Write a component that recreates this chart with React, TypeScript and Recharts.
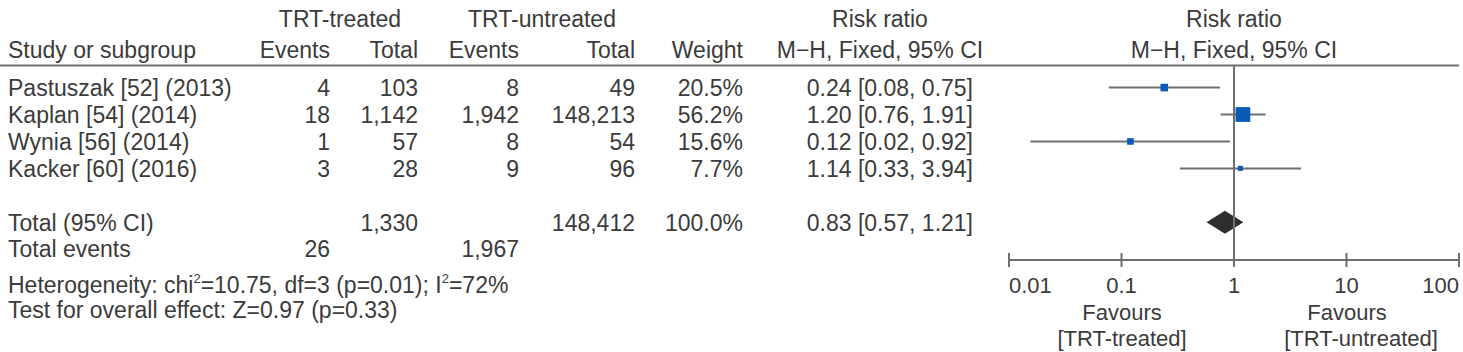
import {
  ComposedChart, Scatter, XAxis, YAxis, ErrorBar, ReferenceLine, ReferenceArea,
} from "recharts";

const ink = "#3b3b3b";
const rule = "#6f6f6f";
const blue = "#0a5bb5";
const dark = "#2e2e2e";
const font = "'Liberation Sans', Arial, Helvetica, sans-serif";

// study data
const studies = ["Pastuszak [52] (2013)", "Kaplan [54] (2014)", "Wynia [56] (2014)", "Kacker [60] (2016)"];
const eventsTreated = [4, 18, 1, 3];
const totalTreated = [103, 1142, 57, 28];
const eventsUntreated = [8, 1942, 8, 9];
const totalUntreated = [49, 148213, 54, 96];
const weights = [20.5, 56.2, 15.6, 7.7];
const riskRatio = [0.24, 1.2, 0.12, 1.14];
const ciLow = [0.077, 0.76, 0.0155, 0.33];
const ciHigh = [0.75, 1.91, 0.92, 3.94];
const ciLabels = ["0.24 [0.08, 0.75]", "1.20 [0.76, 1.91]", "0.12 [0.02, 0.92]", "1.14 [0.33, 3.94]"];

// pooled
const pooledTotals = [1330, 148412];
const pooledEvents = [26, 1967];
const pooledWeight = 100;
const pooledRR = [0.83, 0.57, 1.21];
const pooledLabel = "0.83 [0.57, 1.21]";

const xTicks = [0.01, 0.1, 1, 10, 100];
const studyRows = [1, 2, 3, 4];
const pooledRow = 6;

const forestRows = studies.map((name, i) => ({
  name,
  rr: riskRatio[i],
  y: studyRows[i],
  weight: weights[i],
  err: [riskRatio[i] - ciLow[i], ciHigh[i] - riskRatio[i]],
}));

const fmt = (n: number) => n.toLocaleString("en-US");

// table layout (pixel baselines / right edges)
const rowBase = [96, 123, 150, 177];
const colRight = { evT: 330, totT: 418, evU: 519, totU: 635, weight: 743, ci: 973 };

function WeightSquare(props: any) {
  const { cx, cy, payload } = props;
  const side = 0.2 * payload.weight + 3.5;
  return <rect x={cx - side / 2} y={cy - side / 2} width={side} height={side} fill={blue} />;
}

function Diamond(props: any) {
  const { x, y, width, height } = props;
  const pts = [
    [x, y + height / 2], [x + width / 2, y], [x + width, y + height / 2], [x + width / 2, y + height],
  ].map((p) => p.join(",")).join(" ");
  return <polygon points={pts} fill={dark} />;
}

function LogTick(props: any) {
  const { x, y, payload, index } = props;
  const anchor = index === 0 ? "start" : index === xTicks.length - 1 ? "end" : "middle";
  return (
    <g>
      <line x1={x} x2={x} y1={y - 7} y2={y + 7} stroke={rule} strokeWidth={2} />
      <text x={x} y={y + 33} textAnchor={anchor} fontSize={22} fill={ink} fontFamily={font}>
        {String(payload.value)}
      </text>
    </g>
  );
}

function Table() {
  const t = { fontSize: 23, fill: ink, fontFamily: font };
  const f = { fontSize: 22, fill: ink, fontFamily: font };
  const R = (x: number, y: number, s: string | number) => (
    <text x={x} y={y} textAnchor="end" {...t}>{s}</text>
  );
  return (
    <svg width={1463} height={352} style={{ position: "absolute", left: 0, top: 0, pointerEvents: "none" }}>
      {/* headers */}
      <text x={340} y={27} textAnchor="middle" {...t}>TRT-treated</text>
      <text x={542} y={27} textAnchor="middle" {...t}>TRT-untreated</text>
      <text x={880} y={27} textAnchor="middle" {...t}>Risk ratio</text>
      <text x={1234} y={27} textAnchor="middle" {...t}>Risk ratio</text>
      <text x={8} y={58} {...t}>Study or subgroup</text>
      {R(colRight.evT, 58, "Events")}
      {R(colRight.totT, 58, "Total")}
      {R(colRight.evU, 58, "Events")}
      {R(colRight.totU, 58, "Total")}
      {R(colRight.weight, 58, "Weight")}
      <text x={880} y={58} textAnchor="middle" {...t}>M−H, Fixed, 95% CI</text>
      <text x={1234} y={58} textAnchor="middle" {...t}>M−H, Fixed, 95% CI</text>
      <line x1={0} x2={1459} y1={65.5} y2={65.5} stroke={rule} strokeWidth={2} />

      {studies.map((s, i) => (
        <g key={s}>
          <text x={8} y={rowBase[i]} {...t}>{s}</text>
          {R(colRight.evT, rowBase[i], fmt(eventsTreated[i]))}
          {R(colRight.totT, rowBase[i], fmt(totalTreated[i]))}
          {R(colRight.evU, rowBase[i], fmt(eventsUntreated[i]))}
          {R(colRight.totU, rowBase[i], fmt(totalUntreated[i]))}
          {R(colRight.weight, rowBase[i], `${weights[i].toFixed(1)}%`)}
          {R(colRight.ci, rowBase[i], ciLabels[i])}
        </g>
      ))}

      <text x={8} y={231} {...t}>Total (95% CI)</text>
      {R(colRight.totT, 231, fmt(pooledTotals[0]))}
      {R(colRight.totU, 231, fmt(pooledTotals[1]))}
      {R(colRight.weight, 231, `${pooledWeight.toFixed(1)}%`)}
      {R(colRight.ci, 231, pooledLabel)}

      <text x={8} y={257} {...t}>Total events</text>
      {R(colRight.evT, 257, fmt(pooledEvents[0]))}
      {R(colRight.evU, 257, fmt(pooledEvents[1]))}

      <text x={8} y={293} {...t}>
        Heterogeneity: chi<tspan dy={-10} fontSize={13}>2</tspan>
        <tspan dy={10}>=10.75, df=3 (p=0.01); I</tspan>
        <tspan dy={-10} fontSize={13}>2</tspan>
        <tspan dy={10}>=72%</tspan>
      </text>
      <text x={8} y={318} {...t}>Test for overall effect: Z=0.97 (p=0.33)</text>

      <text x={1122} y={320} textAnchor="middle" {...f}>Favours</text>
      <text x={1122} y={346} textAnchor="middle" {...f}>[TRT-treated]</text>
      <text x={1347} y={320} textAnchor="middle" {...f}>Favours</text>
      <text x={1361} y={346} textAnchor="middle" {...f}>[TRT-untreated]</text>
    </svg>
  );
}

export default function App() {
  return (
    <div style={{ position: "absolute", left: 0, top: 0, width: 1463, height: 352, background: "#fff", overflow: "hidden" }}>
      <ComposedChart width={1463} height={352} margin={{ top: 66, right: 4, bottom: 0, left: 1009 }}>
        <XAxis
          type="number" dataKey="rr" scale="log" domain={[0.01, 100]} ticks={xTicks} allowDataOverflow
          interval={0} height={92} tickSize={0} tickMargin={0} tickLine={false}
          axisLine={{ stroke: rule, strokeWidth: 2 }} tick={<LogTick />}
        />
        <YAxis type="number" dataKey="y" domain={[0.2, 7.4]} reversed hide allowDataOverflow />
        <ReferenceArea
          x1={pooledRR[1]} x2={pooledRR[2]} y1={pooledRow - 0.43} y2={pooledRow + 0.43}
          shape={Diamond} ifOverflow="visible"
        />
        <Scatter data={forestRows} dataKey="y" shape={WeightSquare} isAnimationActive={false}>
          <ErrorBar dataKey="err" direction="x" width={0} stroke={rule} strokeWidth={2} isAnimationActive={false} />
        </Scatter>
        <ReferenceLine x={1} stroke={rule} strokeWidth={2} />
      </ComposedChart>
      <Table />
    </div>
  );
}
